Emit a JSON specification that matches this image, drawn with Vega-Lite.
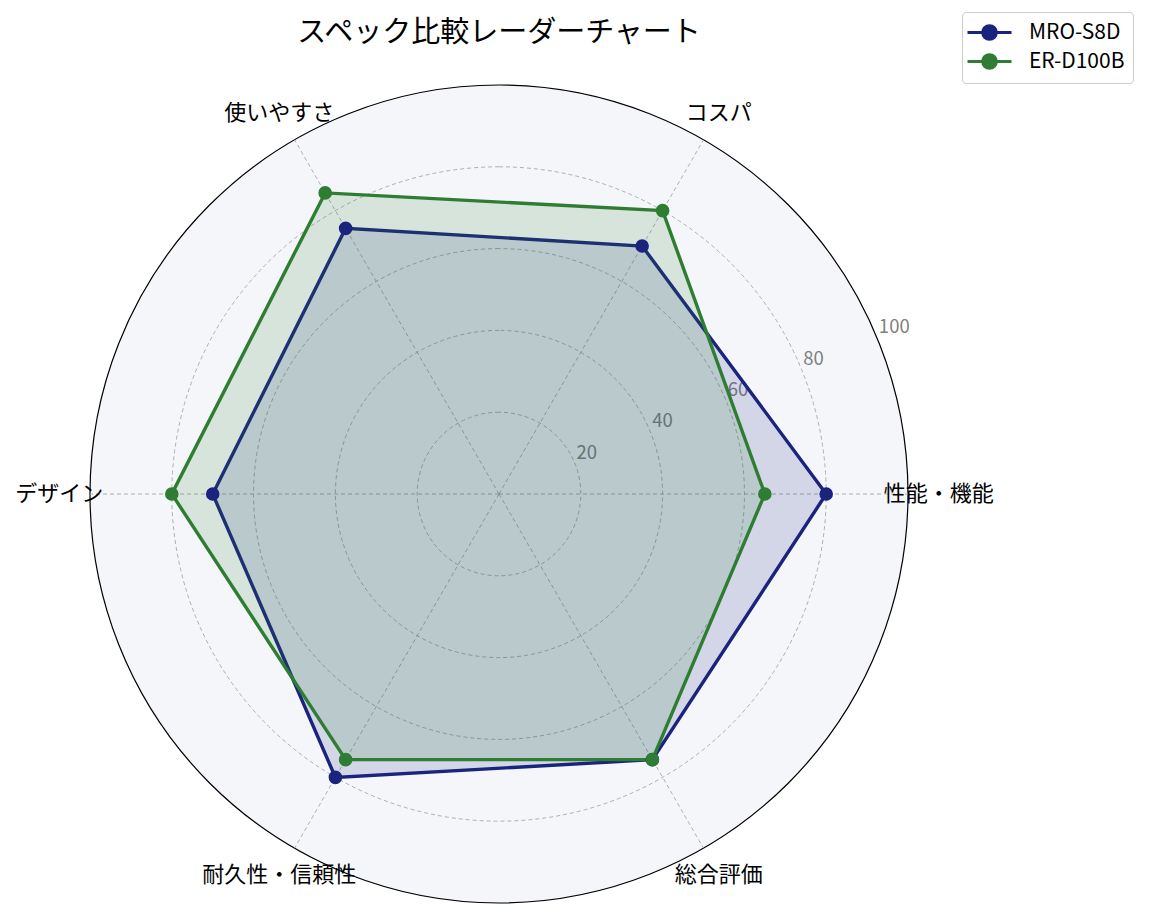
{
  "$schema": "https://vega.github.io/schema/vega-lite/v6.json",
  "description": "Radar chart comparing two models over six criteria.",
  "autosize": {"type": "none"},
  "padding": {"left": 90, "top": 85, "right": 251, "bottom": 17},
  "width": 818,
  "height": 818,
  "background": "white",
  "config": {
    "view": {"stroke": null},
    "font": "Noto Sans CJK JP"
  },
  "datasets": {
    "scores": [
      {"model": "MRO-S8D", "item": "性能・機能", "k": 0, "score": 80},
      {"model": "MRO-S8D", "item": "コスパ", "k": 1, "score": 70},
      {"model": "MRO-S8D", "item": "使いやすさ", "k": 2, "score": 75},
      {"model": "MRO-S8D", "item": "デザイン", "k": 3, "score": 70},
      {"model": "MRO-S8D", "item": "耐久性・信頼性", "k": 4, "score": 80},
      {"model": "MRO-S8D", "item": "総合評価", "k": 5, "score": 75},
      {"model": "ER-D100B", "item": "性能・機能", "k": 0, "score": 65},
      {"model": "ER-D100B", "item": "コスパ", "k": 1, "score": 80},
      {"model": "ER-D100B", "item": "使いやすさ", "k": 2, "score": 85},
      {"model": "ER-D100B", "item": "デザイン", "k": 3, "score": 80},
      {"model": "ER-D100B", "item": "耐久性・信頼性", "k": 4, "score": 75},
      {"model": "ER-D100B", "item": "総合評価", "k": 5, "score": 75}
    ],
    "items": [
      {"item": "性能・機能", "k": 0},
      {"item": "コスパ", "k": 1},
      {"item": "使いやすさ", "k": 2},
      {"item": "デザイン", "k": 3},
      {"item": "耐久性・信頼性", "k": 4},
      {"item": "総合評価", "k": 5}
    ],
    "rings": [
      {"r": 20, "t": 1},
      {"r": 40, "t": 1},
      {"r": 60, "t": 1},
      {"r": 80, "t": 1}
    ],
    "ticks": [
      {"r": 20, "label": "20"},
      {"r": 40, "label": "40"},
      {"r": 60, "label": "60"},
      {"r": 80, "label": "80"},
      {"r": 100, "label": "100"}
    ]
  },
  "layer": [
    {
      "data": {"values": [{"r": 100, "t": 1}]},
      "mark": {"type": "arc", "fill": "#f4f6fa", "stroke": "black", "strokeWidth": 1.2},
      "encoding": {
        "theta": {"field": "t", "type": "quantitative", "stack": null, "scale": {"domain": [0, 1]}},
        "radius": {"field": "r", "type": "quantitative", "scale": {"type": "linear", "domain": [0, 100], "range": [0, 409], "zero": true}}
      }
    },
    {
      "data": {"name": "rings"},
      "mark": {"type": "arc", "fill": "transparent", "stroke": "#a6a6a6", "strokeWidth": 0.9, "strokeDash": [4, 3]},
      "encoding": {
        "theta": {"field": "t", "type": "quantitative", "stack": null, "scale": {"domain": [0, 1]}},
        "radius": {"field": "r", "type": "quantitative", "scale": {"type": "linear", "domain": [0, 100], "range": [0, 409], "zero": true}}
      }
    },
    {
      "data": {"name": "items"},
      "transform": [
        {"calculate": "datum.k * PI / 3", "as": "a"},
        {"calculate": "0", "as": "cx"},
        {"calculate": "100 * cos(datum.a)", "as": "ex"},
        {"calculate": "100 * sin(datum.a)", "as": "ey"}
      ],
      "mark": {"type": "rule", "stroke": "#a6a6a6", "strokeWidth": 0.9, "strokeDash": [4, 3]},
      "encoding": {
        "x": {"field": "cx", "type": "quantitative", "scale": {"domain": [-100, 100], "nice": false, "zero": false}, "axis": null},
        "y": {"field": "cx", "type": "quantitative", "scale": {"domain": [-100, 100], "nice": false, "zero": false}, "axis": null},
        "x2": {"field": "ex"},
        "y2": {"field": "ey"}
      }
    },
    {
      "data": {"name": "ticks"},
      "transform": [
        {"calculate": "datum.r * cos(PI / 8)", "as": "tx"},
        {"calculate": "datum.r * sin(PI / 8)", "as": "ty"}
      ],
      "mark": {"type": "text", "align": "left", "baseline": "bottom", "fontSize": 18.5, "color": "#808080", "font": "Noto Sans CJK JP", "dx": 2},
      "encoding": {
        "x": {"field": "tx", "type": "quantitative"},
        "y": {"field": "ty", "type": "quantitative"},
        "text": {"field": "label", "type": "nominal"}
      }
    },
    {
      "data": {"name": "scores"},
      "transform": [
        {"filter": "datum.model === 'MRO-S8D'"},
        {"calculate": "datum.k * PI / 3", "as": "a"},
        {"calculate": "datum.score * cos(datum.a)", "as": "px"},
        {"calculate": "datum.score * sin(datum.a)", "as": "py"}
      ],
      "mark": {"type": "line", "interpolate": "linear-closed", "stroke": "#1a237e", "fill": "#1a237e", "strokeWidth": 3.4, "fillOpacity": 0.15},
      "encoding": {
        "x": {"field": "px", "type": "quantitative"},
        "y": {"field": "py", "type": "quantitative"},
        "order": {"field": "k", "type": "quantitative"}
      }
    },
    {
      "data": {"name": "scores"},
      "transform": [
        {"filter": "datum.model === 'ER-D100B'"},
        {"calculate": "datum.k * PI / 3", "as": "a"},
        {"calculate": "datum.score * cos(datum.a)", "as": "px"},
        {"calculate": "datum.score * sin(datum.a)", "as": "py"}
      ],
      "mark": {"type": "line", "interpolate": "linear-closed", "stroke": "#2e7d32", "fill": "#2e7d32", "strokeWidth": 3.4, "fillOpacity": 0.15},
      "encoding": {
        "x": {"field": "px", "type": "quantitative"},
        "y": {"field": "py", "type": "quantitative"},
        "order": {"field": "k", "type": "quantitative"}
      }
    },
    {
      "data": {"name": "scores"},
      "transform": [
        {"calculate": "datum.k * PI / 3", "as": "a"},
        {"calculate": "datum.score * cos(datum.a)", "as": "px"},
        {"calculate": "datum.score * sin(datum.a)", "as": "py"}
      ],
      "mark": {"type": "point", "filled": true, "shape": "circle", "size": 185, "opacity": 1},
      "encoding": {
        "x": {"field": "px", "type": "quantitative"},
        "y": {"field": "py", "type": "quantitative"},
        "color": {
          "field": "model", "type": "nominal",
          "scale": {"domain": ["MRO-S8D", "ER-D100B"], "range": ["#1a237e", "#2e7d32"]},
          "legend": {
            "title": null,
            "orient": "none",
            "legendX": 872,
            "legendY": -73,
            "padding": 8,
            "fillColor": "white",
            "strokeColor": "#cccccc",
            "cornerRadius": 4,
            "labelFont": "Noto Sans CJK JP",
            "labelFontSize": 21,
            "labelColor": "black",
            "labelOffset": 27,
            "rowPadding": 2,
            "symbolOffset": 7,
            "symbolType": "M-2,0L-0.62,0M0.62,0L2,0M-0.62,0A0.62,0.62 0 1,0 0.62,0A0.62,0.62 0 1,0 -0.62,0",
            "symbolSize": 484,
            "symbolStrokeWidth": 3,
            "symbolOpacity": 1,
            "encode": {
              "symbols": {
                "update": {
                  "stroke": {"scale": "color", "field": "value"},
                  "fill": {"scale": "color", "field": "value"},
                  "strokeWidth": {"value": 3}
                }
              }
            }
          }
        }
      }
    },
    {
      "data": {"name": "items"},
      "transform": [
        {"calculate": "datum.k * PI / 3", "as": "a"},
        {"calculate": "107.5 * cos(datum.a)", "as": "lx"},
        {"calculate": "107.5 * sin(datum.a)", "as": "ly"}
      ],
      "mark": {"type": "text", "align": "center", "baseline": "middle", "fontSize": 22, "color": "black", "font": "Noto Sans CJK JP"},
      "encoding": {
        "x": {"field": "lx", "type": "quantitative"},
        "y": {"field": "ly", "type": "quantitative"},
        "text": {"field": "item", "type": "nominal"}
      }
    },
    {
      "data": {"values": [{"title": "スペック比較レーダーチャート"}]},
      "mark": {"type": "text", "align": "center", "baseline": "middle", "fontSize": 29, "color": "black", "font": "Noto Sans CJK JP"},
      "encoding": {
        "x": {"datum": 0, "type": "quantitative"},
        "y": {"datum": 112.6, "type": "quantitative"},
        "text": {"field": "title", "type": "nominal"}
      }
    }
  ]
}
